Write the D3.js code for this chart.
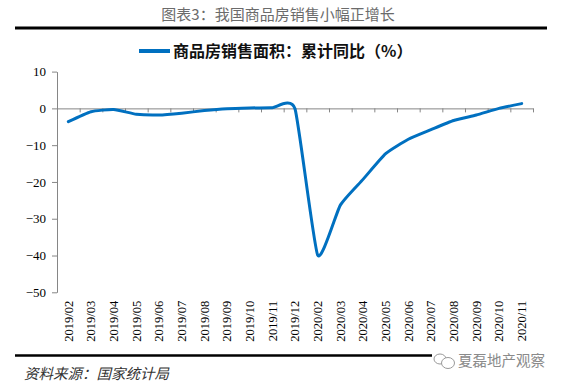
<!DOCTYPE html>
<html><head><meta charset="utf-8">
<script src="https://cdn.jsdelivr.net/npm/d3@7"></script>
<style>
html,body{margin:0;padding:0;background:#fff;}
svg{display:block;}
</style></head>
<body><svg id="c" width="563" height="387"></svg>
<script>
const categories = ["2019/02","2019/03","2019/04","2019/05","2019/06","2019/07","2019/08","2019/09","2019/10","2019/11","2019/12",
  "2020/02","2020/03","2020/04","2020/05","2020/06","2020/07","2020/08","2020/09","2020/10","2020/11"];
const salesAreaYoY = [-3.6,-0.9,-0.3,-1.6,-1.8,-1.3,-0.6,-0.1,0.1,0.2,-0.1,
  -39.9,-26.3,-19.3,-12.3,-8.4,-5.8,-3.3,-1.8,0.0,1.3];
const yTicks = [10,0,-10,-20,-30,-40,-50];
const titleText = "图表3：我国商品房销售小幅正增长";
const legendText = "商品房销售面积：累计同比（%）";
const sourceText = "资料来源：国家统计局";
const watermarkText = "夏磊地产观察";

const svg = d3.select("#c");
const L = 57, R = 533, T = 71.6, B = 292.3;
const axisColor = "#868686";
const lineColor = "#0070C0";
const cjk = "'Noto Sans CJK SC','Noto Sans',sans-serif";
const serif = "'Liberation Serif','Times New Roman',serif";

const x = d3.scaleBand().domain(categories).range([L, R]).padding(0);
const xb = d3.scaleLinear().domain([0, categories.length]).range([L, R]);
const y = d3.scaleLinear().domain([-50, 10]).range([B, T]);

// title
svg.append("text").attr("x", 278).attr("y", 20).attr("text-anchor", "middle")
  .style("font-family", cjk).style("font-size", "15px").style("fill", "#6b6b6b").text(titleText);
svg.append("line").attr("x1", 15).attr("x2", 547).attr("y1", 28).attr("y2", 28)
  .attr("stroke", "#000").attr("stroke-width", 3);

// legend
svg.append("line").attr("x1", 139).attr("x2", 170).attr("y1", 51).attr("y2", 51)
  .attr("stroke", lineColor).attr("stroke-width", 4);
svg.append("text").attr("x", 173).attr("y", 51).attr("dy", "0.36em")
  .style("font-family", cjk).style("font-size", "16px").style("font-weight", "bold")
  .style("fill", "#111").text(legendText);

// y axis
const ya = svg.append("g").attr("transform", `translate(${L},0)`)
  .call(d3.axisLeft(y).tickValues(yTicks).tickSizeInner(5).tickSizeOuter(0).tickPadding(6).tickFormat(d3.format("d")));
ya.select(".domain").attr("stroke", axisColor);
ya.selectAll(".tick line").attr("stroke", axisColor);
ya.selectAll("text").style("font-family", serif).style("font-size", "13px").style("fill", "#000");

// x axis line at zero with ticks at band boundaries
const xa = svg.append("g").attr("transform", `translate(0,${y(0)})`)
  .call(d3.axisBottom(xb).tickValues(d3.range(0, categories.length + 1)).tickSizeInner(4).tickSizeOuter(0).tickFormat(""));
xa.select(".domain").attr("stroke", axisColor);
xa.selectAll(".tick line").attr("stroke", axisColor);

// x labels at bottom
const xl = svg.append("g").attr("transform", `translate(0,${B})`)
  .call(d3.axisBottom(x).tickSize(0));
xl.select(".domain").remove();
xl.selectAll("text").attr("transform", "rotate(-90)").attr("x", -8.5).attr("y", 0).attr("dy", "0.35em")
  .style("text-anchor", "end").style("font-family", serif).style("font-size", "12.5px").style("fill", "#000");

// line
const line = d3.line()
  .x((d, i) => x(categories[i]) + x.bandwidth() / 2)
  .y(d => y(d))
  .curve(d3.curveCardinal.tension(0.5));
svg.append("path").datum(salesAreaYoY).attr("d", line)
  .attr("fill", "none").attr("stroke", lineColor).attr("stroke-width", 3).attr("stroke-linecap", "round");

// footer
svg.append("line").attr("x1", 15).attr("x2", 432).attr("y1", 355.5).attr("y2", 355.5)
  .attr("stroke", "#000").attr("stroke-width", 2.5);
svg.append("text").attr("x", 24).attr("y", 374).attr("dy", "0.35em")
  .style("font-family", cjk).style("font-size", "14.5px").style("font-style", "italic")
  .style("fill", "#333").text(sourceText);
// watermark icon (speech bubbles)
const wm = svg.append("g").attr("fill", "none").attr("stroke", "#9a9a9a").attr("stroke-width", 1);
wm.append("ellipse").attr("cx", 440).attr("cy", 359).attr("rx", 6).attr("ry", 5);
wm.append("ellipse").attr("cx", 448).attr("cy", 363).attr("rx", 6.5).attr("ry", 5.5).attr("fill", "#fff");
svg.append("text").attr("x", 458).attr("y", 361).attr("dy", "0.35em")
  .style("font-family", cjk).style("font-size", "14.5px").style("fill", "#8a8a8a").text(watermarkText);
</script>
</body></html>
